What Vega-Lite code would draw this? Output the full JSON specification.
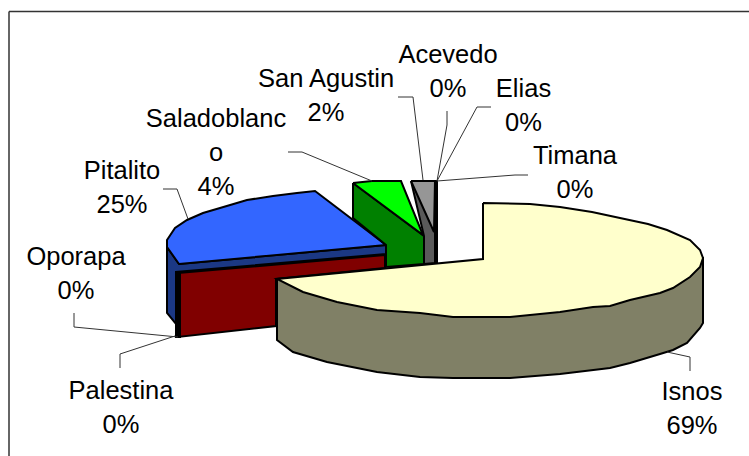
{
"$schema":"https://vega.github.io/schema/vega-lite/v6.json",
"width":740.5,"height":445,
"autosize":"none",
"padding":{"left":8.5,"top":11,"right":0,"bottom":0},
"background":"white",
"config":{"view":{"stroke":null}},
"layer":[
{"data":{"values":[
{"s":"PitalitoSide","n":1,"x":167,"y":247},{"s":"PitalitoSide","n":2,"x":167,"y":313},{"s":"PitalitoSide","n":3,"x":176,"y":324},{"s":"PitalitoSide","n":4,"x":176,"y":272},{"s":"PitalitoSide","n":5,"x":386,"y":254},{"s":"PitalitoSide","n":6,"x":386,"y":245},{"s":"PitalitoSide","n":7,"x":179,"y":264},{"s":"PitalitoSide","n":8,"x":167,"y":247},
{"s":"PitalitoTop","n":1,"x":179,"y":264},{"s":"PitalitoTop","n":2,"x":167,"y":247},{"s":"PitalitoTop","n":3,"x":167,"y":240},{"s":"PitalitoTop","n":4,"x":175,"y":228},{"s":"PitalitoTop","n":5,"x":187,"y":220},{"s":"PitalitoTop","n":6,"x":203,"y":213},{"s":"PitalitoTop","n":7,"x":220,"y":208},{"s":"PitalitoTop","n":8,"x":247,"y":200},{"s":"PitalitoTop","n":9,"x":273,"y":196},{"s":"PitalitoTop","n":10,"x":297,"y":193},{"s":"PitalitoTop","n":11,"x":315,"y":191},{"s":"PitalitoTop","n":12,"x":386,"y":245},{"s":"PitalitoTop","n":13,"x":179,"y":264},
{"s":"PalestinaWall","n":1,"x":178,"y":273},{"s":"PalestinaWall","n":2,"x":385,"y":255},{"s":"PalestinaWall","n":3,"x":385,"y":268},{"s":"PalestinaWall","n":4,"x":276,"y":279},{"s":"PalestinaWall","n":5,"x":276,"y":326},{"s":"PalestinaWall","n":6,"x":178,"y":337},{"s":"PalestinaWall","n":7,"x":178,"y":273},
{"s":"OporapaWall","n":1,"x":176,"y":272},{"s":"OporapaWall","n":2,"x":180,"y":272},{"s":"OporapaWall","n":3,"x":180,"y":337},{"s":"OporapaWall","n":4,"x":176,"y":337},{"s":"OporapaWall","n":5,"x":176,"y":272},
{"s":"SaladoWall","n":1,"x":353,"y":183},{"s":"SaladoWall","n":2,"x":353,"y":218},{"s":"SaladoWall","n":3,"x":386,"y":245},{"s":"SaladoWall","n":4,"x":386,"y":267},{"s":"SaladoWall","n":5,"x":424,"y":264},{"s":"SaladoWall","n":6,"x":424,"y":236},{"s":"SaladoWall","n":7,"x":353,"y":183},
{"s":"SaladoTop","n":1,"x":353,"y":183},{"s":"SaladoTop","n":2,"x":372,"y":181},{"s":"SaladoTop","n":3,"x":401,"y":181},{"s":"SaladoTop","n":4,"x":423,"y":235},{"s":"SaladoTop","n":5,"x":353,"y":183},
{"s":"AgustinWall","n":1,"x":411,"y":181},{"s":"AgustinWall","n":2,"x":424,"y":236},{"s":"AgustinWall","n":3,"x":424,"y":264},{"s":"AgustinWall","n":4,"x":435,"y":263},{"s":"AgustinWall","n":5,"x":435,"y":181},{"s":"AgustinWall","n":6,"x":411,"y":181},
{"s":"AgustinTop","n":1,"x":411,"y":181},{"s":"AgustinTop","n":2,"x":435,"y":181},{"s":"AgustinTop","n":3,"x":434,"y":232},{"s":"AgustinTop","n":4,"x":411,"y":181},
{"s":"ZeroBar","n":1,"x":435,"y":181},{"s":"ZeroBar","n":2,"x":437,"y":181},{"s":"ZeroBar","n":3,"x":437,"y":263},{"s":"ZeroBar","n":4,"x":435,"y":263},{"s":"ZeroBar","n":5,"x":435,"y":181},
{"s":"IsnosSide","n":1,"x":277,"y":279},{"s":"IsnosSide","n":2,"x":277,"y":340},{"s":"IsnosSide","n":3,"x":293,"y":352},{"s":"IsnosSide","n":4,"x":327,"y":362},{"s":"IsnosSide","n":5,"x":377,"y":372},{"s":"IsnosSide","n":6,"x":420,"y":377},{"s":"IsnosSide","n":7,"x":453,"y":378},{"s":"IsnosSide","n":8,"x":510,"y":378},{"s":"IsnosSide","n":9,"x":560,"y":374},{"s":"IsnosSide","n":10,"x":610,"y":368},{"s":"IsnosSide","n":11,"x":630,"y":363},{"s":"IsnosSide","n":12,"x":660,"y":354},{"s":"IsnosSide","n":13,"x":673,"y":350},{"s":"IsnosSide","n":14,"x":687,"y":343},{"s":"IsnosSide","n":15,"x":700,"y":328},{"s":"IsnosSide","n":16,"x":703,"y":323},{"s":"IsnosSide","n":17,"x":703,"y":258},{"s":"IsnosSide","n":18,"x":277,"y":279},
{"s":"IsnosTop","n":1,"x":483,"y":203},{"s":"IsnosTop","n":2,"x":530,"y":204},{"s":"IsnosTop","n":3,"x":560,"y":207},{"s":"IsnosTop","n":4,"x":592,"y":212},{"s":"IsnosTop","n":5,"x":620,"y":218},{"s":"IsnosTop","n":6,"x":648,"y":224},{"s":"IsnosTop","n":7,"x":667,"y":230},{"s":"IsnosTop","n":8,"x":690,"y":240},{"s":"IsnosTop","n":9,"x":700,"y":250},{"s":"IsnosTop","n":10,"x":703,"y":258},{"s":"IsnosTop","n":11,"x":700,"y":267},{"s":"IsnosTop","n":12,"x":690,"y":277},{"s":"IsnosTop","n":13,"x":673,"y":288},{"s":"IsnosTop","n":14,"x":660,"y":293},{"s":"IsnosTop","n":15,"x":630,"y":300},{"s":"IsnosTop","n":16,"x":610,"y":306},{"s":"IsnosTop","n":17,"x":593,"y":307},{"s":"IsnosTop","n":18,"x":560,"y":312},{"s":"IsnosTop","n":19,"x":510,"y":317},{"s":"IsnosTop","n":20,"x":453,"y":317},{"s":"IsnosTop","n":21,"x":420,"y":313},{"s":"IsnosTop","n":22,"x":377,"y":310},{"s":"IsnosTop","n":23,"x":337,"y":302},{"s":"IsnosTop","n":24,"x":303,"y":292},{"s":"IsnosTop","n":25,"x":277,"y":279},{"s":"IsnosTop","n":26,"x":483,"y":259},{"s":"IsnosTop","n":27,"x":483,"y":203}
]},
"mark":{"type":"line","stroke":"black","strokeWidth":2,"strokeJoin":"miter","interpolate":"linear","clip":false},
"encoding":{
"x":{"field":"x","type":"quantitative","scale":{"domain":[8.5,749],"nice":false,"zero":false},"axis":{"orient":"top","title":null,"labels":false,"ticks":false,"grid":false,"domainColor":"#333333","domainWidth":1.5}},
"y":{"field":"y","type":"quantitative","scale":{"domain":[456,11],"nice":false,"zero":false},"axis":{"orient":"left","title":null,"labels":false,"ticks":false,"grid":false,"domainColor":"#333333","domainWidth":1.5}},
"order":{"field":"n","type":"quantitative"},
"detail":{"field":"s"},
"fill":{"field":"s","type":"nominal","legend":null,"scale":{"domain":["PitalitoSide","PitalitoTop","PalestinaWall","OporapaWall","SaladoWall","SaladoTop","AgustinWall","AgustinTop","ZeroBar","IsnosSide","IsnosTop"],"range":["#1b3884","#3366ff","#800000","#000000","#008000","#00ff00","#5a5a5a","#969696","#000000","#808066","#ffffcc"]}}
}},
{"data":{"values":[
{"l":"Pitalito","n":1,"x":163,"y":189},{"l":"Pitalito","n":2,"x":177,"y":189},{"l":"Pitalito","n":3,"x":188,"y":219},
{"l":"Saladoblanco","n":1,"x":288,"y":152},{"l":"Saladoblanco","n":2,"x":302,"y":152},{"l":"Saladoblanco","n":3,"x":372,"y":181},
{"l":"San Agustin","n":1,"x":398,"y":97},{"l":"San Agustin","n":2,"x":413,"y":97},{"l":"San Agustin","n":3,"x":423,"y":180},
{"l":"Acevedo","n":1,"x":447,"y":111},{"l":"Acevedo","n":2,"x":447,"y":125},{"l":"Acevedo","n":3,"x":437,"y":181},
{"l":"Elias","n":1,"x":491,"y":107},{"l":"Elias","n":2,"x":477,"y":107},{"l":"Elias","n":3,"x":437,"y":181},
{"l":"Timana","n":1,"x":528,"y":175},{"l":"Timana","n":2,"x":515,"y":175},{"l":"Timana","n":3,"x":437,"y":181},
{"l":"Oporapa","n":1,"x":74,"y":313},{"l":"Oporapa","n":2,"x":74,"y":327},{"l":"Oporapa","n":3,"x":178,"y":337},
{"l":"Palestina","n":1,"x":120,"y":368},{"l":"Palestina","n":2,"x":120,"y":354},{"l":"Palestina","n":3,"x":175,"y":336},
{"l":"Isnos","n":1,"x":690,"y":371},{"l":"Isnos","n":2,"x":690,"y":357},{"l":"Isnos","n":3,"x":667,"y":352}
]},
"mark":{"type":"line","stroke":"#333333","strokeWidth":1},
"encoding":{"x":{"field":"x","type":"quantitative"},"y":{"field":"y","type":"quantitative"},"order":{"field":"n","type":"quantitative"},"detail":{"field":"l"}}},
{"data":{"values":[
{"label":"Acevedo\n0%","x":448,"y":63},
{"label":"Elias\n0%","x":523.5,"y":97},
{"label":"Timana\n0%","x":575,"y":164},
{"label":"San Agustin\n2%","x":326,"y":87},
{"label":"Saladoblanc\no\n4%","x":216,"y":127},
{"label":"Pitalito\n25%","x":122,"y":179},
{"label":"Oporapa\n0%","x":76,"y":265},
{"label":"Palestina\n0%","x":121,"y":399},
{"label":"Isnos\n69%","x":692,"y":400}
]},
"mark":{"type":"text","font":"Liberation Sans","fontSize":25.5,"lineBreak":"\n","lineHeight":34,"align":"center","baseline":"alphabetic","fill":"black"},
"encoding":{"x":{"field":"x","type":"quantitative"},"y":{"field":"y","type":"quantitative"},"text":{"field":"label"}}}
]
}
